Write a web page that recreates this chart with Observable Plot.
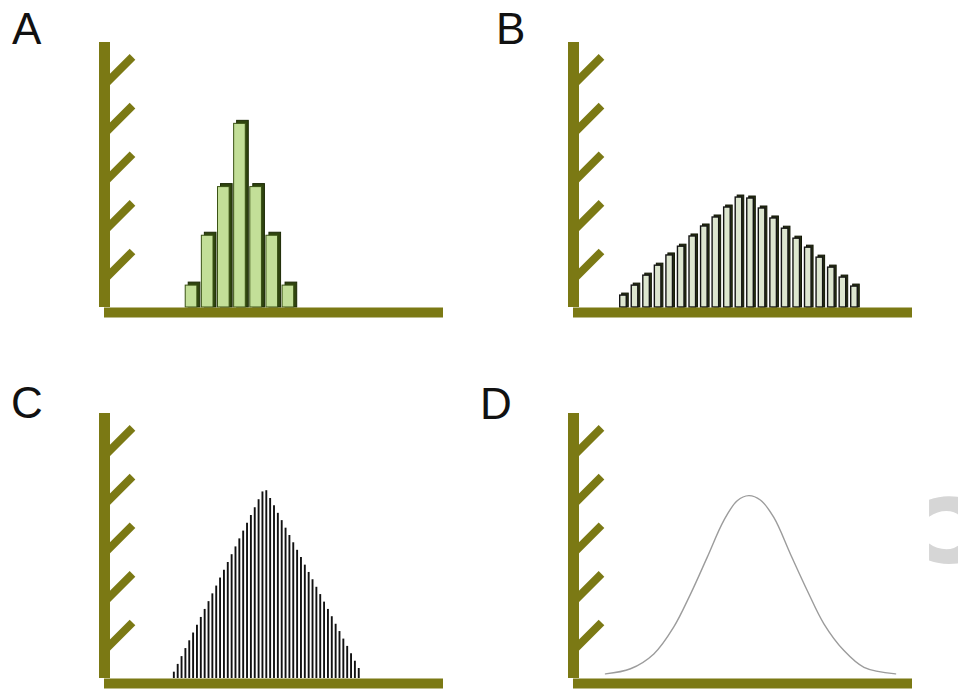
<!DOCTYPE html>
<html><head><meta charset="utf-8">
<script src="https://cdn.jsdelivr.net/npm/d3@7"></script>
<script src="https://cdn.jsdelivr.net/npm/@observablehq/plot@0.6"></script>
<style>
html,body{margin:0;padding:0;background:#fff;}
#fig{position:relative;width:958px;height:691px;overflow:hidden;background:#fff;font-family:"Liberation Sans",Arial,sans-serif;}
.panel{position:absolute;}
.lab{position:absolute;font-size:44px;line-height:44px;color:#111;}
.wm{position:absolute;font-family:"DejaVu Sans",sans-serif;font-weight:bold;font-size:118px;line-height:118px;color:#d6d6d6;}
</style></head><body>
<div id="fig"></div>
<script>
// ---- data ----
const panelLabels = ["A", "B", "C", "D"];
const axisTicks = [1.15, 3.15, 5.15, 7.15, 9.15];

const aBins = [5, 6, 7, 8, 9, 10, 11];
const aCounts = [0.9, 2.95, 4.95, 7.55, 4.95, 2.95, 0.9];

const bBins = [4, 5, 6, 7, 8, 9, 10, 11, 12, 13, 14, 15, 16, 17, 18, 19, 20, 21, 22, 23, 24];
const bCounts = [0.49, 0.9, 1.31, 1.72, 2.14, 2.5, 2.92, 3.33, 3.7, 4.11, 4.52,
                 4.48, 4.07, 3.66, 3.24, 2.83, 2.46, 2.05, 1.64, 1.23, 0.86];

const cPositions = [18, 19, 20, 21, 22, 23, 24, 25, 26, 27, 28, 29, 30, 31, 32, 33, 34,
                    35, 36, 37, 38, 39, 40, 41, 42, 43, 44, 45, 46, 47, 48, 49, 50, 51,
                    52, 53, 54, 55, 56, 57, 58, 59, 60, 61, 62, 63, 64, 65, 66];
const cCounts = [0.26, 0.58, 0.9, 1.23, 1.55, 1.87, 2.19, 2.51, 2.84, 3.16, 3.48, 3.8,
                 4.13, 4.45, 4.77, 5.09, 5.41, 5.74, 6.06, 6.38, 6.7, 7.02, 7.35, 7.67,
                 7.72,
                 7.4, 7.1, 6.79, 6.49, 6.18, 5.88, 5.58, 5.27, 4.97, 4.66, 4.36, 4.06,
                 3.75, 3.45, 3.14, 2.84, 2.54, 2.23, 1.93, 1.62, 1.32, 1.02, 0.71, 0.41];

const dX = [8.3, 14.8, 20.85, 26.0, 30.4, 34.7, 39.0, 42.5, 45.5, 48.5, 52.0, 56.3, 60.7, 65.0, 70.2, 75.4, 83.6];
const dY = [0.19, 0.4, 1.01, 2.11, 3.48, 4.98, 6.49, 7.31, 7.52, 7.34, 6.62, 5.12, 3.61, 2.25, 1.15, 0.46, 0.19];

// ---- styling ----
const OLIVE = "#7b7914";
const W = 469, H = 320, ML = 104, MT = 37, MR = 26, MB = 13;
const Y_MAX = 11.1;
const spike = {draw(ctx, l) { ctx.moveTo(0, 0); ctx.lineTo(0, -l); }};

function panel(xMax, marks) {
  return Plot.plot({
    width: W, height: H,
    marginLeft: ML, marginTop: MT, marginRight: MR, marginBottom: MB,
    x: {domain: [0, xMax], axis: null},
    y: {domain: [0, Y_MAX], axis: null},
    style: {background: "transparent", overflow: "visible"},
    marks: [
      ...marks,
      Plot.vector(axisTicks, {x: 0, y: d => d, length: 39.6, rotate: 45, anchor: "start",
        shape: spike, stroke: OLIVE, strokeWidth: 8, strokeLinecap: "butt"}),
      Plot.ruleX([0], {y1: 0, y2: Y_MAX, stroke: OLIVE, strokeWidth: 11, insetBottom: -5}),
      Plot.ruleY([0], {x1: 0, x2: xMax, stroke: OLIVE, strokeWidth: 10, dy: 5})
    ]
  });
}

const aData = aBins.map((b, i) => ({b, v: aCounts[i]}));
const bData = bBins.map((b, i) => ({b, v: bCounts[i]}));
const cData = cPositions.map((p, i) => ({p, v: cCounts[i]}));
const dData = dX.map((x, i) => ({x, y: dY[i]}));

const charts = [
  {left: 0, top: 0, node: panel(21, [
    Plot.rectY(aData, {x1: "b", x2: d => d.b + 1, y1: 0, y2: "v", insetLeft: 0.5, insetRight: 4, insetBottom: -3,
      dx: 3, dy: -3, fill: "#2f440f", stroke: "#1c2a06", strokeWidth: 1}),
    Plot.rectY(aData, {x1: "b", x2: d => d.b + 1, y1: 0, y2: "v", insetLeft: 0.5, insetRight: 4,
      fill: "#c3df98", stroke: "#3a5214", strokeWidth: 1})
  ])},
  {left: 469, top: 0, node: panel(29.35, [
    Plot.rectY(bData, {x1: "b", x2: d => d.b + 1, y1: 0, y2: "v", insetLeft: 0.5, insetRight: 4.5, insetBottom: -2,
      dx: 2, dy: -2, fill: "#2a3314", stroke: "#111505", strokeWidth: 1}),
    Plot.rectY(bData, {x1: "b", x2: d => d.b + 1, y1: 0, y2: "v", insetLeft: 0.5, insetRight: 4.5,
      fill: "#dde6cf", stroke: "#151515", strokeWidth: 1.4})
  ])},
  {left: 0, top: 371, node: panel(88, [
    Plot.ruleX(cData, {x: "p", y1: 0, y2: "v", stroke: "#111", strokeWidth: 1.9})
  ])},
  {left: 469, top: 371, node: panel(88, [
    Plot.line(dData, {x: "x", y: "y", curve: "catmull-rom", stroke: "#9c9c9c", strokeWidth: 1.4})
  ])}
];

const fig = document.getElementById("fig");
for (const c of charts) {
  c.node.classList.add("panel");
  c.node.style.left = c.left + "px";
  c.node.style.top = c.top + "px";
  fig.appendChild(c.node);
}

const labelPos = [[12, 7], [496, 7], [11, 381], [480, 382]];
panelLabels.forEach((t, i) => {
  const d = document.createElement("div");
  d.className = "lab";
  d.textContent = t;
  d.style.left = labelPos[i][0] + "px";
  d.style.top = labelPos[i][1] + "px";
  fig.appendChild(d);
});

const wm = document.createElement("div");
wm.className = "wm";
wm.textContent = "ɔ";
wm.style.left = "924px";
wm.style.top = "462px";
fig.appendChild(wm);
</script>
</body></html>
